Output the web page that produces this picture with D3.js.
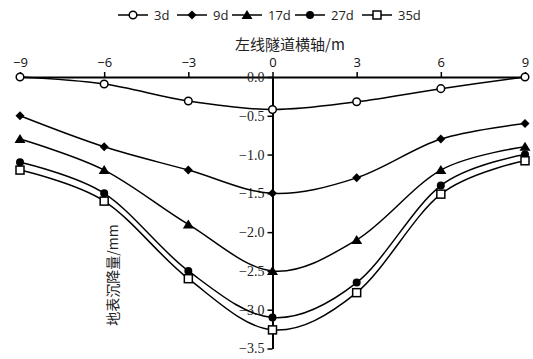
<!DOCTYPE html>
<html lang="zh">
<head>
  <meta charset="UTF-8" />
  <title>地表沉降量</title>
  <script src="https://d3js.org/d3.v7.min.js"></script>
  <style>
    body { margin: 0; background: #fff; }
    svg { display: block; }
  </style>
</head>
<body>
  <svg id="chart" width="533" height="359"></svg>
  <script>
    const xValues = [-9, -6, -3, 0, 3, 6, 9];
    const seriesNames = ['3d', '9d', '17d', '27d', '35d'];
    const s3d  = [0, -0.09, -0.31, -0.42, -0.32, -0.15, 0];
    const s9d  = [-0.5, -0.9, -1.2, -1.5, -1.3, -0.8, -0.6];
    const s17d = [-0.8, -1.2, -1.9, -2.5, -2.1, -1.2, -0.9];
    const s27d = [-1.1, -1.5, -2.5, -3.1, -2.65, -1.4, -1.0];
    const s35d = [-1.2, -1.6, -2.6, -3.26, -2.78, -1.51, -1.08];
    const xTicks = [-9, -6, -3, 0, 3, 6, 9];
    const yTicks = [0, -0.5, -1.0, -1.5, -2.0, -2.5, -3.0, -3.5];

    const seriesValues = [s3d, s9d, s17d, s27d, s35d];
    const markers = ['openCircle', 'diamond', 'triangle', 'circle', 'openSquare'];

    const svg = d3.select('#chart');
    const x = d3.scaleLinear().domain([-9, 9]).range([20, 525]);
    const y = d3.scaleLinear().domain([0, -3.5]).range([77, 348.5]);

    // x axis along the top (value 0)
    const xAxis = svg.append('g')
      .attr('transform', `translate(0,${y(0)})`)
      .call(d3.axisTop(x).tickValues(xTicks).tickSize(5).tickPadding(5).tickSizeOuter(0));
    xAxis.select('.domain').attr('stroke', '#000').attr('stroke-width', 2);
    xAxis.selectAll('.tick line').attr('stroke', '#000').attr('stroke-width', 1.5);
    xAxis.selectAll('.tick text')
      .attr('font-family', '"Open Sans", "DejaVu Sans", sans-serif')
      .attr('font-size', '13px')
      .attr('fill', '#111');

    // y axis through x = 0
    const yAxis = svg.append('g')
      .attr('transform', `translate(${x(0)},0)`)
      .call(d3.axisLeft(y).tickValues(yTicks).tickFormat(d3.format('.1f'))
        .tickSize(5).tickPadding(3).tickSizeOuter(0));
    yAxis.select('.domain').attr('stroke', '#000').attr('stroke-width', 2);
    yAxis.selectAll('.tick line').attr('stroke', '#000').attr('stroke-width', 1.5);
    yAxis.selectAll('.tick text')
      .attr('font-family', '"Liberation Serif", "DejaVu Serif", serif')
      .attr('font-size', '14px')
      .attr('fill', '#222');

    const line = d3.line()
      .x((d, i) => x(xValues[i]))
      .y(d => y(d))
      .curve(d3.curveCardinal.tension(0));

    function drawMarker(g, type, cx, cy) {
      if (type === 'openCircle') {
        g.append('circle').attr('cx', cx).attr('cy', cy).attr('r', 3.8)
          .attr('fill', '#fff').attr('stroke', '#000').attr('stroke-width', 1.5);
      } else if (type === 'circle') {
        g.append('circle').attr('cx', cx).attr('cy', cy).attr('r', 4)
          .attr('fill', '#000');
      } else if (type === 'diamond') {
        g.append('path').attr('d', `M${cx},${cy - 4.5}L${cx + 4.5},${cy}L${cx},${cy + 4.5}L${cx - 4.5},${cy}Z`)
          .attr('fill', '#000');
      } else if (type === 'triangle') {
        g.append('path').attr('d', `M${cx},${cy - 5}L${cx + 5.5},${cy + 4}L${cx - 5.5},${cy + 4}Z`)
          .attr('fill', '#000');
      } else if (type === 'openSquare') {
        g.append('rect').attr('x', cx - 4).attr('y', cy - 4).attr('width', 8).attr('height', 8)
          .attr('fill', '#fff').attr('stroke', '#000').attr('stroke-width', 1.5);
      }
    }

    seriesValues.forEach((vals, si) => {
      const g = svg.append('g');
      g.append('path')
        .datum(vals)
        .attr('d', line)
        .attr('fill', 'none')
        .attr('stroke', '#000')
        .attr('stroke-width', 1.5);
      vals.forEach((v, i) => drawMarker(g, markers[si], x(xValues[i]), y(v)));
    });

    // legend
    const legendX = [118, 177, 232, 295, 362];
    const legend = svg.append('g');
    seriesNames.forEach((name, i) => {
      const lx = legendX[i];
      legend.append('line')
        .attr('x1', lx).attr('x2', lx + 30).attr('y1', 15).attr('y2', 15)
        .attr('stroke', '#000').attr('stroke-width', 1.5);
      drawMarker(legend, markers[i], lx + 15, 15);
      legend.append('text')
        .attr('x', lx + 36).attr('y', 15)
        .attr('dominant-baseline', 'central')
        .attr('font-family', '"Open Sans", "DejaVu Sans", sans-serif')
        .attr('font-size', '13px')
        .attr('fill', '#222')
        .text(name);
    });

    // axis titles
    svg.append('text')
      .attr('x', 290).attr('y', 43)
      .attr('text-anchor', 'middle')
      .attr('dominant-baseline', 'central')
      .attr('font-family', '"Noto Sans CJK SC", sans-serif')
      .attr('font-size', '15px')
      .attr('fill', '#222')
      .text('左线隧道横轴/m');

    svg.append('text')
      .attr('transform', 'translate(112,275) rotate(-90)')
      .attr('text-anchor', 'middle')
      .attr('dominant-baseline', 'central')
      .attr('font-family', '"Noto Sans CJK SC", sans-serif')
      .attr('font-size', '14px')
      .attr('fill', '#222')
      .text('地表沉降量/mm');
  </script>
</body>
</html>
